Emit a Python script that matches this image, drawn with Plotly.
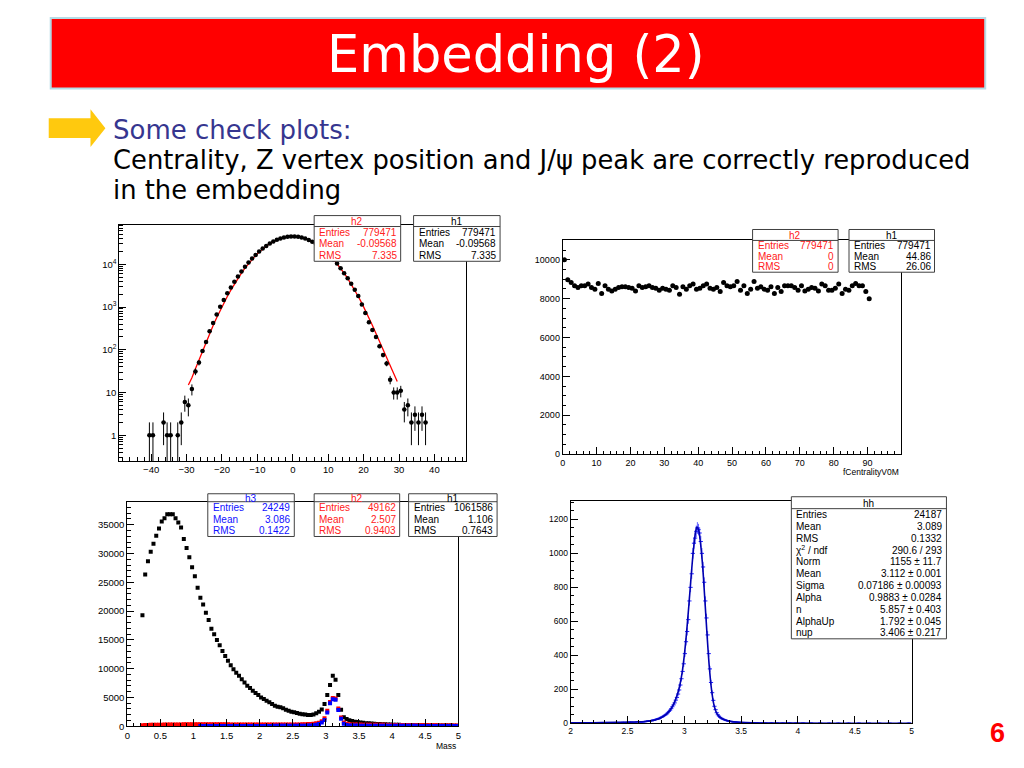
import math
import plotly.graph_objects as go

W, H = 1024, 768
def X(px): return px / W
def Y(py): return 1 - py / H

ROOT_FONT = "Liberation Sans, Arial, sans-serif"
SLIDE_FONT = "DejaVu Sans, Verdana, sans-serif"

# ---------------- data: Z vertex (top-left) ----------------
zvtx_tail_center = [-40.5, -39.5, -36.5, -35.5, -34.5, -32.5, -31.5]
zvtx_tail_count = [1, 1, 2, 1, 1, 1, 2]
zvtx_first_center = -30.5
zvtx_count = [6, 5, 12, 31, 50, 94, 152, 270, 425, 665, 1020, 1450, 2090, 2850, 3900,
              5200, 6800, 8700, 11000, 13600, 16500, 19800, 23300, 26900, 30500, 34000,
              37200, 40000, 42300, 43900, 44800,
              44700, 43800, 42200, 39900, 37000, 33700, 30100, 26500, 22800, 19300, 16000,
              13000, 10400, 8100, 6200, 4700, 3500, 2550, 1800, 1150, 720, 440, 290, 200,
              120, 75, 48, 20, 10, 10, 11, 4, 5, 2, 3, 2, 3, 2]
zvtx_red_first_center = -29.5
zvtx_red = [15, 22, 36, 58, 95, 150, 240, 370, 560, 840, 1230, 1760, 2480, 3420, 4650,
            6200, 8100, 10400, 13100, 16100, 19400, 22900, 26600, 30200, 33800, 37100,
            40000, 42300, 43900, 44800,
            44800, 43900, 42300, 40000, 37100, 33800, 30200, 26600, 22900, 19400, 16100,
            13100, 10400, 8100, 6200, 4650, 3420, 2480, 1760, 1230, 840, 560, 370, 240,
            155, 100, 66, 43, 28, 18]
zvtx_logticks = [1, 10, 100, 1000, 10000]
zvtx_logtext = ["1", "10", "10<sup>2</sup>", "10<sup>3</sup>", "10<sup>4</sup>"]

# ---------------- data: centrality (top-right) ----------------
cent_first_center = 0.5
cent_count = [10000, 8970, 8830, 8660, 8575, 8660, 8660, 8750, 8575, 8490,
              8780, 8270, 8660, 8490, 8400, 8490, 8575, 8610, 8610, 8575,
              8540, 8400, 8660, 8575, 8610, 8660, 8575, 8540, 8440, 8540,
              8490, 8440, 8660, 8575, 8230, 8610, 8490, 8660, 8750, 8490,
              8540, 8660, 8750, 8540, 8490, 8575, 8370, 8830, 8660, 8610,
              8660, 8880, 8440, 8660, 8270, 8490, 8880, 8540, 8610, 8490,
              8440, 8610, 8270, 8575, 8370, 8660, 8660, 8660, 8575, 8440,
              8660, 8400, 8490, 8575, 8540, 8400, 8750, 8660, 8440, 8440,
              8540, 8750, 8270, 8490, 8440, 8660, 8780, 8660, 8660, 8370,
              8000]

# ---------------- data: mass (bottom-left), 120 bins on [0,5] ----------------
mass_nbins, mass_lo, mass_hi = 120, 0.0, 5.0
h1_first_bin = 5
h1_mass = [19300, 26350, 28650, 30320, 31710, 33090, 34350, 35560, 36140, 36830,
           36830, 36830, 36140, 35390, 34530, 32510, 30960, 29340, 27610, 26060,
           24040, 22310, 21160, 19720, 18450, 16950, 15970, 14990, 14070, 13090,
           12220, 11360, 10610, 9920, 9300, 8760, 8180, 7610, 7030, 6630,
           6170, 5760, 5420, 5010, 4730, 4440, 4150, 3860, 3570, 3400,
           3290, 3110, 2880, 2710, 2535, 2420, 2300, 2190, 2070, 2020,
           1960, 1940, 2050, 2250, 2500, 2900, 3860, 5420, 7150, 8760,
           8070, 5420, 2880, 1560, 1270, 1050, 900, 800, 720, 650,
           590, 540, 500, 460, 430, 400, 375, 350, 330, 310,
           290, 275, 260, 245, 235, 225, 215, 205, 195, 185,
           180, 170, 165, 160, 150, 145, 140, 135, 130, 125,
           120, 115, 110, 105, 100]
h2_first_bin = 5
h2_mass = [170, 200, 220, 240, 250, 260, 270, 280, 290, 300,
           300, 310, 310, 320, 320, 330, 330, 330, 340, 340,
           340, 340, 340, 340, 340, 335, 335, 330, 330, 330,
           325, 325, 320, 320, 315, 315, 310, 310, 305, 305,
           300, 300, 300, 295, 295, 290, 290, 290, 285, 285,
           285, 285, 290, 290, 295, 300, 310, 320, 335, 350,
           370, 400, 440, 500, 600, 850, 1400, 2700, 4200, 4900,
           4800, 3100, 1500, 650, 420, 340, 310, 300, 290, 285,
           280, 275, 270, 265, 260, 255, 250, 245, 240, 235,
           230, 225, 220, 215, 210, 205, 200, 195, 190, 185,
           180, 175, 170, 165, 160, 158, 155, 152, 150, 148,
           145, 142, 140, 138, 135]
h3_first_bin = 26
h3_mass = [40, 42, 44, 45, 46, 47, 48, 49, 50, 50,
           51, 52, 52, 53, 54, 55, 55, 56, 57, 58,
           58, 59, 60, 60, 61, 62, 63, 64, 65, 66,
           68, 70, 72, 75, 78, 82, 88, 95, 105, 120,
           145, 185, 250, 380, 650, 1100, 2400, 4000, 4700, 4600,
           2800, 1300, 450, 220, 150, 125, 115, 108, 102, 98,
           95, 92, 90, 88, 86, 84, 82, 80, 78, 76,
           75, 73, 72, 70, 69, 68, 66, 65, 64, 62,
           61, 60, 59, 58, 57, 56, 55, 54, 53, 52,
           51, 50, 49, 48]

# ---------------- data: J/psi peak (bottom-right) ----------------
hh_low_x = [2.005, 2.025, 2.045, 2.075, 2.095, 2.115, 2.145, 2.165, 2.195, 2.215,
            2.245, 2.265, 2.285, 2.315, 2.335, 2.355, 2.385, 2.405, 2.425, 2.445,
            2.465, 2.485, 2.505, 2.525, 2.545, 2.565, 2.585]
hh_low_y = [1, 2, 1, 2, 3, 1, 2, 2, 3, 2, 3, 3, 4, 3, 2, 4, 4, 5, 3, 5, 6, 4, 5, 7, 6, 6, 8]
hh_core_first, hh_core_width = 2.605, 0.01
hh_core_y = [8, 6, 9, 7, 10, 9, 12, 11, 14, 13,
             16, 15, 19, 18, 22, 24, 27, 26, 31, 35,
             37, 41, 46, 50, 55, 62, 70, 77, 86, 97,
             108, 120, 136, 152, 172, 196, 225, 262, 305, 350,
             410, 480, 540, 610, 720, 800, 880, 1000, 1060, 1090,
             1130, 1150, 1140, 1120, 1070, 1000, 920, 830, 720, 620,
             520, 410, 320, 240, 180, 135, 100, 80, 62, 50,
             42, 35, 30, 26, 23, 20, 17, 15, 14, 12,
             11, 10, 9, 8, 8, 7, 6, 6, 5, 5, 4]
hh_high_x = [3.515, 3.535, 3.555, 3.585, 3.615, 3.645, 3.685, 3.725, 3.765, 3.815,
             3.865, 3.925, 3.985, 4.045, 4.115, 4.195, 4.275, 4.355, 4.445, 4.535,
             4.625, 4.715, 4.805, 4.895, 4.975]
hh_high_y = [4, 3, 3, 3, 2, 2, 2, 1, 2, 1, 1, 2, 1, 1, 1, 1, 1, 1, 1, 1, 1, 1, 1, 1, 1]
fit_x = [2.0, 2.2, 2.4, 2.5, 2.6, 2.65, 2.7, 2.75, 2.8, 2.85, 2.88, 2.9, 2.92, 2.94, 2.96,
         2.98, 3.0, 3.02, 3.04, 3.06, 3.08, 3.1, 3.112, 3.125, 3.14, 3.16, 3.18, 3.2, 3.22,
         3.24, 3.26, 3.28, 3.3, 3.33, 3.36, 3.4, 3.45, 3.5, 3.6, 3.8, 4.0, 4.5, 5.0]
fit_y = [2, 3, 5, 6.5, 8.5, 10.5, 14, 21, 34, 58, 82, 105, 135, 172, 222,
         295, 400, 535, 695, 865, 1020, 1130, 1155, 1140, 1075, 935, 735, 520, 330,
         195, 110, 66, 44, 28, 19, 12, 7.5, 5, 2.8, 1.3, 0.7, 0.3, 0.15]

# ---------------- build ----------------
fig = go.Figure()

def sq(v):
    return [math.sqrt(max(a, 0)) for a in v]

# P1
zx = zvtx_tail_center + [zvtx_first_center + i for i in range(len(zvtx_count))]
zy = zvtx_tail_count + zvtx_count
zred_x = [zvtx_red_first_center + i for i in range(len(zvtx_red))]
fig.add_trace(go.Scatter(x=zred_x, y=zvtx_red, mode="lines",
                         line=dict(color="#ff0000", width=1.3),
                         xaxis="x", yaxis="y", showlegend=False))
ez = sq(zy)
fig.add_trace(go.Scatter(x=zx, y=zy, mode="markers",
                         marker=dict(symbol="circle", size=4.5, color="#000"),
                         error_y=dict(type="data", array=ez,
                                      arrayminus=[min(e, 0.97 * v) for e, v in zip(ez, zy)],
                                      color="#000", thickness=1, width=0),
                         error_x=dict(type="constant", value=0.5, color="#000", thickness=1.6, width=0),
                         xaxis="x", yaxis="y", showlegend=False))

# P2
cx = [cent_first_center + i for i in range(len(cent_count))]
fig.add_trace(go.Scatter(x=cx, y=cent_count, mode="markers",
                         marker=dict(symbol="circle", size=5, color="#000"),
                         xaxis="x2", yaxis="y2", showlegend=False))

# P3
bw = (mass_hi - mass_lo) / mass_nbins
def centers(first, n):
    return [mass_lo + (first + i + 0.5) * bw for i in range(n)]
fig.add_trace(go.Scatter(x=centers(h1_first_bin, len(h1_mass)), y=h1_mass, mode="markers",
                         marker=dict(symbol="square", size=4, color="#000"),
                         xaxis="x3", yaxis="y3", showlegend=False))
fig.add_trace(go.Scatter(x=centers(h2_first_bin, len(h2_mass)), y=h2_mass, mode="markers",
                         marker=dict(symbol="square", size=4, color="#ff0000"),
                         xaxis="x3", yaxis="y3", showlegend=False))
fig.add_trace(go.Scatter(x=centers(h3_first_bin, len(h3_mass)), y=h3_mass, mode="markers",
                         marker=dict(symbol="square", size=4, color="#0000ff"),
                         xaxis="x3", yaxis="y3", showlegend=False))

# P4
hx = hh_low_x + [hh_core_first + i * hh_core_width for i in range(len(hh_core_y))] + hh_high_x
hy = hh_low_y + hh_core_y + hh_high_y
fig.add_trace(go.Scatter(x=hx, y=hy, mode="markers",
                         marker=dict(symbol="line-ew", size=3, color="#2020ff",
                                     line=dict(color="#2020ff", width=1)),
                         error_y=dict(type="data", array=sq(hy), color="#3a3aff", thickness=0.8, width=0),
                         error_x=dict(type="constant", value=0.005, color="#3a3aff", thickness=0.8, width=0),
                         xaxis="x4", yaxis="y4", showlegend=False))
fig.add_trace(go.Scatter(x=fit_x, y=fit_y, mode="lines", line=dict(color="#0000b0", width=1.6, shape="spline"),
                         xaxis="x4", yaxis="y4", showlegend=False))

# ---------------- axes ----------------
def ax(x0, x1, y0, y1):
    return dict(xdom=[X(x0), X(x1)], ydom=[Y(y1), Y(y0)])

def base(size=9):
    return dict(showline=True, linecolor="#000", linewidth=1, mirror=True,
                ticks="inside", ticklen=7, tickcolor="#000", tickwidth=1,
                showgrid=False, zeroline=False,
                tickfont=dict(family=ROOT_FONT, size=size, color="#000"))

def minor(dt, t0=0):
    return dict(ticks="inside", ticklen=3.5, tickcolor="#000", tickwidth=1,
                showgrid=False, tickmode="linear", dtick=dt, tick0=t0)

f1 = ax(117, 466, 226, 464)
f2 = ax(563, 903, 242, 457)
f3 = ax(125, 458, 505, 731)
f4 = ax(571, 914, 504, 728)

logminor = [m * 10 ** e for e in range(-1, 5) for m in range(2, 10)]

fig.update_layout(
    xaxis=dict(base(9.5), domain=f1["xdom"], anchor="y", range=[-49, 49],
               tickmode="linear", dtick=10, tick0=0, minor=minor(2)),
    yaxis=dict(base(9.5), domain=f1["ydom"], anchor="x", type="log",
               range=[math.log10(0.25), math.log10(85000)],
               tickmode="array", tickvals=zvtx_logticks, ticktext=zvtx_logtext,
               minor=dict(ticks="inside", ticklen=3.5, tickcolor="#000", showgrid=False,
                          tickmode="array", tickvals=logminor)),
    xaxis2=dict(base(9), domain=f2["xdom"], anchor="y2", range=[0, 99.8],
                tickmode="array", tickvals=[0, 10, 20, 30, 40, 50, 60, 70, 80, 90],
                minor=minor(2)),
    yaxis2=dict(base(9), domain=f2["ydom"], anchor="x2", range=[0, 11000],
                tickmode="linear", dtick=2000, tick0=0, tickformat="d", minor=minor(500)),
    xaxis3=dict(base(9.5), domain=f3["xdom"], anchor="y3", range=[0, 5],
                tickmode="array", tickvals=[0, 0.5, 1, 1.5, 2, 2.5, 3, 3.5, 4, 4.5, 5],
                ticktext=["0", "0.5", "1", "1.5", "2", "2.5", "3", "3.5", "4", "4.5", "5"],
                minor=minor(0.1)),
    yaxis3=dict(base(9.5), domain=f3["ydom"], anchor="x3", range=[0, 39000],
                tickmode="linear", dtick=5000, tick0=0, tickformat="d", minor=minor(1000)),
    xaxis4=dict(base(8.5), domain=f4["xdom"], anchor="y4", range=[2, 5],
                tickmode="array", tickvals=[2, 2.5, 3, 3.5, 4, 4.5, 5],
                ticktext=["2", "2.5", "3", "3.5", "4", "4.5", "5"], minor=minor(0.1)),
    yaxis4=dict(base(8.5), domain=f4["ydom"], anchor="x4", range=[0, 1310],
                tickmode="linear", dtick=200, tick0=0, tickformat="d", minor=minor(50)),
)

# ---------------- slide decorations ----------------
shapes = []
annotations = []

shapes.append(dict(type="rect", xref="paper", yref="paper",
                   x0=X(48), x1=X(988), y0=Y(89), y1=Y(18),
                   fillcolor="#ff0000", line=dict(color="#b4dce6", width=2), layer="above"))
annotations.append(dict(xref="paper", yref="paper", x=X(516), y=Y(55), text="Embedding (2)",
                        showarrow=False, xanchor="center", yanchor="middle",
                        font=dict(family=SLIDE_FONT, size=51, color="#ffffff")))

pts = [(46, 119), (88, 119), (88, 110), (103, 129), (88, 148), (88, 139), (46, 139)]
path = "M " + " L ".join(f"{X(a):.5f},{Y(b):.5f}" for a, b in pts) + " Z"
shapes.append(dict(type="path", xref="paper", yref="paper", path=path,
                   fillcolor="#ffc90e", line=dict(width=0), layer="above"))

annotations.append(dict(xref="paper", yref="paper", x=X(109), y=Y(131), text="Some check plots:",
                        showarrow=False, xanchor="left", yanchor="middle",
                        font=dict(family=SLIDE_FONT, size=26, color="#36368f")))
annotations.append(dict(xref="paper", yref="paper", x=X(109), y=Y(161),
                        text="Centrality, Z vertex position and J/ψ peak are correctly reproduced",
                        showarrow=False, xanchor="left", yanchor="middle",
                        font=dict(family=SLIDE_FONT, size=25.8, color="#000")))
annotations.append(dict(xref="paper", yref="paper", x=X(109), y=Y(191), text="in the embedding",
                        showarrow=False, xanchor="left", yanchor="middle",
                        font=dict(family=SLIDE_FONT, size=25.8, color="#000")))
annotations.append(dict(xref="paper", yref="paper", x=X(1000), y=Y(738), text="<b>6</b>",
                        showarrow=False, xanchor="center", yanchor="middle",
                        font=dict(family=ROOT_FONT, size=27, color="#ff0000")))

# axis titles
annotations.append(dict(xref="paper", yref="paper", x=X(903), y=Y(475), text="fCentralityV0M",
                        showarrow=False, xanchor="right", yanchor="middle",
                        font=dict(family=ROOT_FONT, size=8.5, color="#000")))
annotations.append(dict(xref="paper", yref="paper", x=X(458), y=Y(751), text="Mass",
                        showarrow=False, xanchor="right", yanchor="middle",
                        font=dict(family=ROOT_FONT, size=8.5, color="#000")))

def stat_box(x0, x1, y0, yline, y1, title, labels, values, color, size, title_color=None):
    shapes.append(dict(type="rect", xref="paper", yref="paper",
                       x0=X(x0), x1=X(x1), y0=Y(y1), y1=Y(y0),
                       fillcolor="#ffffff", line=dict(color="#404040", width=1), layer="above"))
    shapes.append(dict(type="line", xref="paper", yref="paper",
                       x0=X(x0), x1=X(x1), y0=Y(yline), y1=Y(yline),
                       line=dict(color="#404040", width=1), layer="above"))
    annotations.append(dict(xref="paper", yref="paper", x=X((x0 + x1) / 2), y=Y((y0 + yline) / 2 + 0.5),
                            text=title, showarrow=False, xanchor="center", yanchor="middle",
                            font=dict(family=ROOT_FONT, size=size, color=title_color or color)))
    n = len(labels)
    step = (y1 - yline) / n
    for i, (lab, val) in enumerate(zip(labels, values)):
        yc = yline + (i + 0.5) * step
        annotations.append(dict(xref="paper", yref="paper", x=X(x0 + 3), y=Y(yc), text=lab,
                                showarrow=False, xanchor="left", yanchor="middle",
                                font=dict(family=ROOT_FONT, size=size, color=color)))
        annotations.append(dict(xref="paper", yref="paper", x=X(x1 - 2), y=Y(yc), text=val,
                                showarrow=False, xanchor="right", yanchor="middle",
                                font=dict(family=ROOT_FONT, size=size, color=color)))

L3 = ["Entries", "Mean", "RMS"]
stat_box(313, 400, 217, 228, 263, "h2", L3, ["779471", "-0.09568", "7.335"], "#ff2020", 10)
stat_box(413, 500, 217, 228, 263, "h1", L3, ["779471", "-0.09568", "7.335"], "#000", 10)
stat_box(754, 840, 231, 242, 274, "h2", L3, ["779471", "0", "0"], "#ff2020", 10)
stat_box(851, 937, 231, 242, 274, "h1", L3, ["779471", "44.86", "26.06"], "#000", 10)
stat_box(206, 293, 497, 505, 540, "h3", L3, ["24249", "3.086", "0.1422"], "#1010ff", 10)
stat_box(313, 399, 497, 505, 540, "h2", L3, ["49162", "2.507", "0.9403"], "#ff2020", 10)
stat_box(408, 497, 497, 505, 540, "h1", L3, ["1061586", "1.106", "0.7643"], "#000", 10)
stat_box(793, 949, 500, 512, 643, "hh",
         ["Entries", "Mean", "RMS", "χ<sup>2</sup> / ndf", "Norm", "Mean", "Sigma", "Alpha",
          "n", "AlphaUp", "nup"],
         ["24187", "3.089", "0.1332", "290.6 / 293", "1155 ± 11.7", "3.112 ± 0.001",
          "0.07186 ± 0.00093", "0.9883 ± 0.0284", "5.857 ± 0.403", "1.792 ± 0.045",
          "3.406 ± 0.217"], "#000", 10)

fig.update_layout(width=W, height=H, margin=dict(l=0, r=0, t=0, b=0),
                  paper_bgcolor="#ffffff", plot_bgcolor="rgba(0,0,0,0)",
                  shapes=shapes, annotations=annotations, showlegend=False)

fig.write_html("out.html", config={"displayModeBar": False},
               post_script="document.body.style.margin='0';document.body.style.overflow='hidden';")
